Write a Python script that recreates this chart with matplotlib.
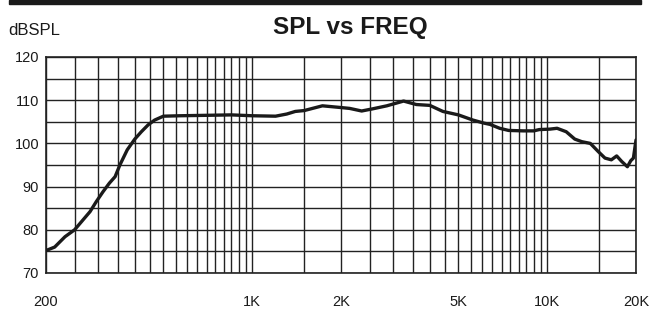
# spl_vs_freq.py
# frequency response chart, log frequency axis 200 Hz - 20 kHz

import matplotlib.pyplot as plt
import numpy as np

plt.rcParams['font.family'] = ['Liberation Sans', 'DejaVu Sans']

# curve
freq_hz = [200, 214, 232, 250, 264, 282, 296, 312, 328, 343, 356, 377, 400, 421,
           444, 467, 500, 570, 700, 850, 1000, 1200, 1310, 1400, 1500, 1730, 2000,
           2140, 2350, 2560, 2860, 3260, 3600, 4000, 4430, 5000, 5600, 6100, 6400,
           6900, 7400, 8300, 9000, 9400, 10200, 10800, 11600, 12400, 13100, 14000,
           14900, 15700, 16500, 17200, 17900, 18700, 19200, 19600, 20000]
spl_db = [75.2, 76.0, 78.4, 80.0, 81.9, 84.2, 86.5, 88.8, 90.8, 92.3, 95.0, 98.5,
          101.0, 102.7, 104.3, 105.4, 106.3, 106.4, 106.5, 106.6, 106.4, 106.3,
          106.8, 107.4, 107.6, 108.7, 108.3, 108.1, 107.5, 108.0, 108.7, 109.8,
          109.0, 108.8, 107.4, 106.6, 105.4, 104.7, 104.4, 103.5, 103.0, 102.9,
          102.9, 103.2, 103.3, 103.5, 102.7, 101.0, 100.4, 100.0, 98.1, 96.6, 96.2,
          97.1, 95.8, 94.6, 96.0, 96.6, 100.8]

# grid and label positions
grid_x = list(range(200, 1000, 50)) + list(range(1000, 10000, 500)) + [10000, 15000, 20000]
label_x = {200: '200', 1000: '1K', 2000: '2K', 5000: '5K', 10000: '10K', 20000: '20K'}
grid_y = np.arange(70, 121, 5)
label_y = [70, 80, 90, 100, 110, 120]

fig = plt.figure(figsize=(6.5, 3.16), dpi=100)
ax = fig.add_axes([46 / 650, 1 - 273 / 316, 590 / 650, 216 / 316])

ax.plot(freq_hz, spl_db, color='#1a1a1a', lw=2.4, solid_capstyle='round', zorder=3)

ax.set_xscale('log')
ax.set_xlim(200, 20000)
ax.set_ylim(70, 120)

ax.set_xticks(grid_x, [label_x.get(f, '') for f in grid_x])
ax.set_xticks([], minor=True)
ax.set_yticks(grid_y, [str(v) if v in label_y else '' for v in grid_y])
ax.tick_params(axis='both', length=0, labelsize=10.5, colors='#1a1a1a')
ax.tick_params(axis='x', pad=16)
ax.tick_params(axis='y', pad=5)
ax.grid(True, color='#222222', lw=1.0)
for s in ax.spines.values():
    s.set_color('#222222')
    s.set_linewidth(1.2)

# header: black bar, title, unit
fig.patches.append(plt.Rectangle((9 / 650, 1 - 4 / 316), 632 / 650, 4 / 316,
                                 transform=fig.transFigure, color='#1a1a1a'))
fig.text(350 / 650, 1 - 34 / 316, 'SPL vs FREQ', ha='center', va='baseline',
         fontsize=17.5, fontweight='bold', color='#1a1a1a')
fig.text(8 / 650, 1 - 35 / 316, 'dBSPL', ha='left', va='baseline',
         fontsize=12, color='#1a1a1a')

fig.savefig('out.png', dpi=100)
